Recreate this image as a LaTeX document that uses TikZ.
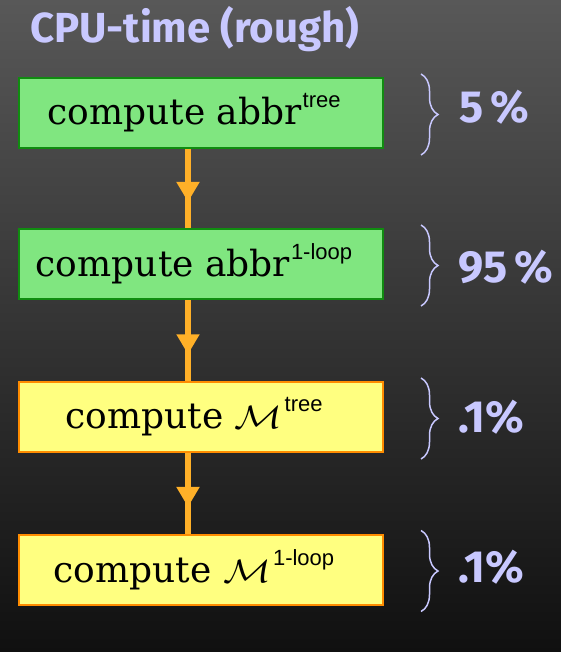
\documentclass[tikz,border=0pt]{standalone}
\usepackage{fontspec}
\usepackage{amsmath}
\usepackage{graphicx}
\usepackage{tikz}
\usetikzlibrary{arrows.meta,decorations.markings,decorations.pathreplacing}
\setmainfont{DejaVu Serif}
\newfontfamily\labelfont{Fira Sans}
\newfontfamily\supfont{Liberation Sans}
\definecolor{lavender}{RGB}{200,200,255}
\definecolor{bgtop}{RGB}{88,88,88}
\definecolor{bgbot}{RGB}{16,16,16}
\definecolor{flowc}{RGB}{255,176,40}
\definecolor{gfill}{RGB}{128,230,128}
\definecolor{gline}{RGB}{16,140,16}
\definecolor{yfill}{RGB}{255,255,128}
\definecolor{yline}{RGB}{255,140,0}
% raised sans label after a word
\newcommand{\supsc}[1]{\kern1pt\raisebox{17pt}{\supfont\fontsize{22}{22}\selectfont #1}}
\newcommand{\Mamp}{\scalebox{1.6}[1.3]{$\mathcal{M}$}\kern1pt}

\begin{document}
\begin{tikzpicture}[x=1pt,y=-1pt]
\tikzstyle{box}=[draw,line width=2pt,inner sep=0pt,minimum width=364pt,minimum height=70pt,
  font=\fontsize{36}{40}\selectfont,execute at end node={\hspace*{14pt}}];
\tikzstyle{greenbox}=[box,fill=gfill,draw=gline];
\tikzstyle{yellowbox}=[box,fill=yfill,draw=yline];
\tikzstyle{flow}=[draw=flowc,line width=6pt,postaction={decorate},
  decoration={markings,mark=at position 0.67 with {\arrow[flowc]{Triangle[width=22pt,length=20pt]}}}];
\tikzstyle{brc}=[draw=lavender,line width=1.5pt,decorate,decoration={brace,amplitude=17pt}];
\tikzstyle{pct}=[anchor=base west,inner sep=0pt,text=lavender,font=\labelfont\bfseries\fontsize{45}{50}\selectfont];

% background
\shade[top color=bgtop,bottom color=bgbot] (0,0) rectangle (561,652);

\node[anchor=base west,inner sep=0pt,text=lavender,font=\labelfont\bfseries\fontsize{42}{46}\selectfont]
  (title) at (30,43) {CPU-time (rough)};

\node[greenbox] (b1) at (201,113) {compute abbr\supsc{tree}};
\node[greenbox] (b2) at (201,264) {compute abbr\supsc{1-loop}};
\node[yellowbox] (b3) at (201,417) {compute \Mamp\supsc{tree}};
\node[yellowbox] (b4) at (201,569.5) {compute \Mamp\supsc{1-loop}};

\foreach \i/\j in {1/2,2/3,3/4}
  \draw[flow] ([xshift=-13pt]b\i.south) -- ([xshift=-13pt]b\j.north);

\foreach \i in {1,...,4}
  \draw[brc] ([xshift=37pt,yshift=3pt]b\i.north east) -- ([xshift=37pt,yshift=-6pt]b\i.south east);

\node[pct] (p1) at (459,123) {5\,\%};
\node[pct] (p2) at (458,282) {95\,\%};
\node[pct] (p3) at (458,432) {.1\%};
\node[pct] (p4) at (458,582) {.1\%};
\end{tikzpicture}
\end{document}
